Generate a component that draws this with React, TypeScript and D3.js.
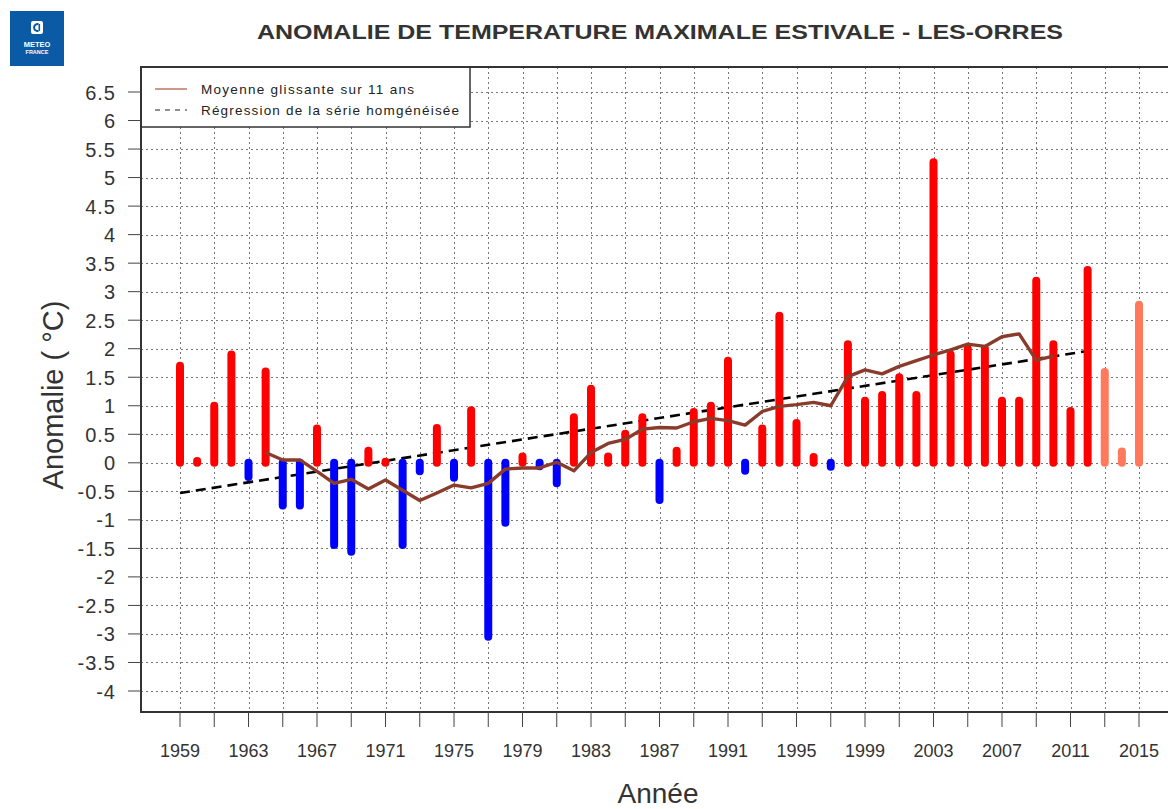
import React from "react";
import * as d3 from "d3";

const years = [
  1959, 1960, 1961, 1962, 1963, 1964, 1965, 1966, 1967, 1968, 1969, 1970, 1971, 1972, 1973, 1974, 1975, 1976, 1977,
  1978, 1979, 1980, 1981, 1982, 1983, 1984, 1985, 1986, 1987, 1988, 1989, 1990, 1991, 1992, 1993, 1994, 1995, 1996,
  1997, 1998, 1999, 2000, 2001, 2002, 2003, 2004, 2005, 2006, 2007, 2008, 2009, 2010, 2011, 2012, 2013, 2014, 2015,
];
const anomalies = [
  1.7, 0.03, 1.0, 1.9, -0.25, 1.6, -0.75, -0.75, 0.6, -1.44, -1.56, 0.21, 0.02, -1.44, -0.15, 0.61, -0.26, 0.92, -3.05,
  -1.05, 0.11, -0.06, -0.36, 0.8, 1.3, 0.11, 0.51, 0.8, -0.65, 0.21, 0.89, 1.0, 1.79, -0.14, 0.6, 2.58, 0.7, 0.1,
  -0.07, 2.08, 1.09, 1.19, 1.5, 1.19, 5.27, 1.9, 2.0, 2.0, 1.09, 1.09, 3.19, 2.08, 0.91, 3.38, 1.59, 0.2, 2.77,
];
const provisionalYears = [2013, 2014, 2015];

const movingYears = [
  1964, 1965, 1966, 1967, 1968, 1969, 1970, 1971, 1972, 1973, 1974, 1975, 1976, 1977, 1978, 1979, 1980, 1981, 1982,
  1983, 1984, 1985, 1986, 1987, 1988, 1989, 1990, 1991, 1992, 1993, 1994, 1995, 1996, 1997, 1998, 1999, 2000, 2001,
  2002, 2003, 2004, 2005, 2006, 2007, 2008, 2009, 2010,
];
const movingAverage = [
  0.18, 0.05, 0.05, -0.15, -0.36, -0.29, -0.46, -0.3, -0.48, -0.66, -0.53, -0.39, -0.44, -0.36, -0.11, -0.09, -0.09,
  0.01, -0.14, 0.18, 0.34, 0.41, 0.59, 0.62, 0.61, 0.72, 0.78, 0.74, 0.66, 0.9, 0.99, 1.02, 1.06, 1.0, 1.51, 1.63,
  1.56, 1.69, 1.79, 1.89, 1.98, 2.08, 2.04, 2.21, 2.26, 1.8, 1.87,
];

const regressionYears = [1959, 2012];
const regressionValues = [-0.53, 1.96];

const yTicks = [
  -4, -3.5, -3, -2.5, -2, -1.5, -1, -0.5, 0, 0.5, 1, 1.5, 2, 2.5, 3, 3.5, 4, 4.5, 5, 5.5, 6, 6.5,
];
const xTickYears = [
  1959, 1961, 1963, 1965, 1967, 1969, 1971, 1973, 1975, 1977, 1979, 1981, 1983, 1985, 1987, 1989, 1991, 1993, 1995,
  1997, 1999, 2001, 2003, 2005, 2007, 2009, 2011, 2013, 2015,
];
const xLabelYears = [1959, 1963, 1967, 1971, 1975, 1979, 1983, 1987, 1991, 1995, 1999, 2003, 2007, 2011, 2015];

const TITLE = "ANOMALIE DE TEMPERATURE MAXIMALE ESTIVALE - LES-ORRES";
const LEGEND_MA = "Moyenne glissante sur 11 ans";
const LEGEND_REG = "Régression de la série homgénéisée";

const FONT = "'Liberation Sans', Arial, Helvetica, sans-serif";

export default function App() {
  const W = 1168;
  const H = 809;
  const left = 141;
  const right = 1192;
  const top = 67;
  const bottom = 712;

  const x = d3.scaleLinear().domain([1959, 2015]).range([180, 1139]);
  const y = d3.scaleLinear().domain([-4, 6.5]).range([691, 92]);

  const maLine = d3
    .line<number>()
    .x((_, i) => x(movingYears[i]))
    .y((d) => y(d));
  const regLine = d3
    .line<number>()
    .x((_, i) => x(regressionYears[i]))
    .y((d) => y(d));

  const barColor = (yr: number, v: number) =>
    provisionalYears.includes(yr) ? "#ff7a5c" : v >= 0 ? "#ff0000" : "#0000ff";

  return (
    <svg
      width={W}
      height={H}
      style={{ position: "absolute", left: 0, top: 0, background: "#fff" }}
      fontFamily={FONT}
    >
      <defs>
        <clipPath id="plotclip">
          <rect x={left} y={top} width={right - left} height={bottom - top} />
        </clipPath>
      </defs>

      {/* Logo */}
      <g>
        <rect x={10} y={11} width={54} height={55} fill="#0b5aa5" />
        <rect x={31} y={21} width={12} height={13} rx={2} fill="#fff" />
        <path d="M38.5,24 a3.6,3.6 0 1 0 0,7" fill="none" stroke="#0b5aa5" strokeWidth={2} />
        <rect x={38.5} y={24} width={1.6} height={7} fill="#0b5aa5" />
        <text x={37} y={46.5} textAnchor="middle" fontSize={7.5} fontWeight="bold" fill="#fff">
          METEO
        </text>
        <text x={37} y={54} textAnchor="middle" fontSize={5.5} fontWeight="bold" fill="#fff">
          FRANCE
        </text>
      </g>

      {/* Title */}
      <text
        x={257}
        y={39}
        fontSize={20}
        fontWeight="bold"
        fill="#333"
        textLength={806}
        lengthAdjust="spacingAndGlyphs"
      >
        {TITLE}
      </text>

      {/* Grid */}
      <g clipPath="url(#plotclip)" stroke="#777" strokeWidth={1} strokeDasharray="2,3">
        {yTicks.map((t) => (
          <line key={"h" + t} x1={left} x2={right} y1={Math.round(y(t)) + 0.5} y2={Math.round(y(t)) + 0.5} />
        ))}
        {xTickYears.map((t) => (
          <line key={"v" + t} x1={Math.round(x(t)) + 0.5} x2={Math.round(x(t)) + 0.5} y1={top} y2={bottom} />
        ))}
      </g>

      {/* Regression */}
      <path
        d={regLine(regressionValues) || ""}
        fill="none"
        stroke="#000"
        strokeWidth={2.6}
        strokeDasharray="10,6"
      />

      {/* Bars */}
      <g strokeLinecap="round" strokeWidth={8}>
        {years.map((yr, i) => (
          <line
            key={yr}
            x1={x(yr)}
            x2={x(yr)}
            y1={y(0)}
            y2={y(anomalies[i])}
            stroke={barColor(yr, anomalies[i])}
          />
        ))}
      </g>

      {/* Moving average */}
      <path
        d={maLine(movingAverage) || ""}
        fill="none"
        stroke="#8a3c2c"
        strokeWidth={3.4}
        strokeLinejoin="round"
      />

      {/* Legend */}
      <g>
        <rect x={left} y={top} width={329} height={60} fill="#fff" stroke="#333" strokeWidth={1.5} />
        <line x1={155} x2={187} y1={89} y2={89} stroke="#b5503c" strokeWidth={1.2} />
        <text x={201} y={93.5} fontSize={13.5} fill="#222" textLength={213} lengthAdjust="spacing">
          {LEGEND_MA}
        </text>
        <line x1={155} x2={187} y1={110} y2={110} stroke="#222" strokeWidth={1.2} strokeDasharray="5,5" />
        <text x={201} y={115} fontSize={13.5} fill="#222" textLength={258} lengthAdjust="spacing">
          {LEGEND_REG}
        </text>
      </g>

      {/* Frame */}
      <rect x={left} y={top} width={right - left} height={bottom - top} fill="none" stroke="#333" strokeWidth={2} />

      {/* Y axis ticks */}
      <g>
        {yTicks.map((t) => (
          <g key={"yt" + t}>
            <line x1={128} x2={left} y1={y(t)} y2={y(t)} stroke="#444" strokeWidth={1} />
            <text
              x={116}
              y={y(t) + 7.5}
              textAnchor="end"
              fontSize={20}
              fill="#333"
              letterSpacing={1}
            >
              {String(t)}
            </text>
          </g>
        ))}
      </g>

      {/* X axis ticks */}
      <g>
        {xTickYears.map((t) => (
          <line key={"xt" + t} x1={x(t)} x2={x(t)} y1={bottom} y2={727} stroke="#444" strokeWidth={1} />
        ))}
        {xLabelYears.map((t) => (
          <text key={"xl" + t} x={x(t)} y={757} textAnchor="middle" fontSize={18} fill="#333">
            {String(t)}
          </text>
        ))}
      </g>

      {/* Axis titles */}
      <text x={658} y={803} textAnchor="middle" fontSize={28} fill="#333">
        Année
      </text>
      <text
        transform={`translate(63,395) rotate(-90)`}
        textAnchor="middle"
        fontSize={29}
        fill="#333"
      >
        Anomalie ( °C)
      </text>
    </svg>
  );
}
